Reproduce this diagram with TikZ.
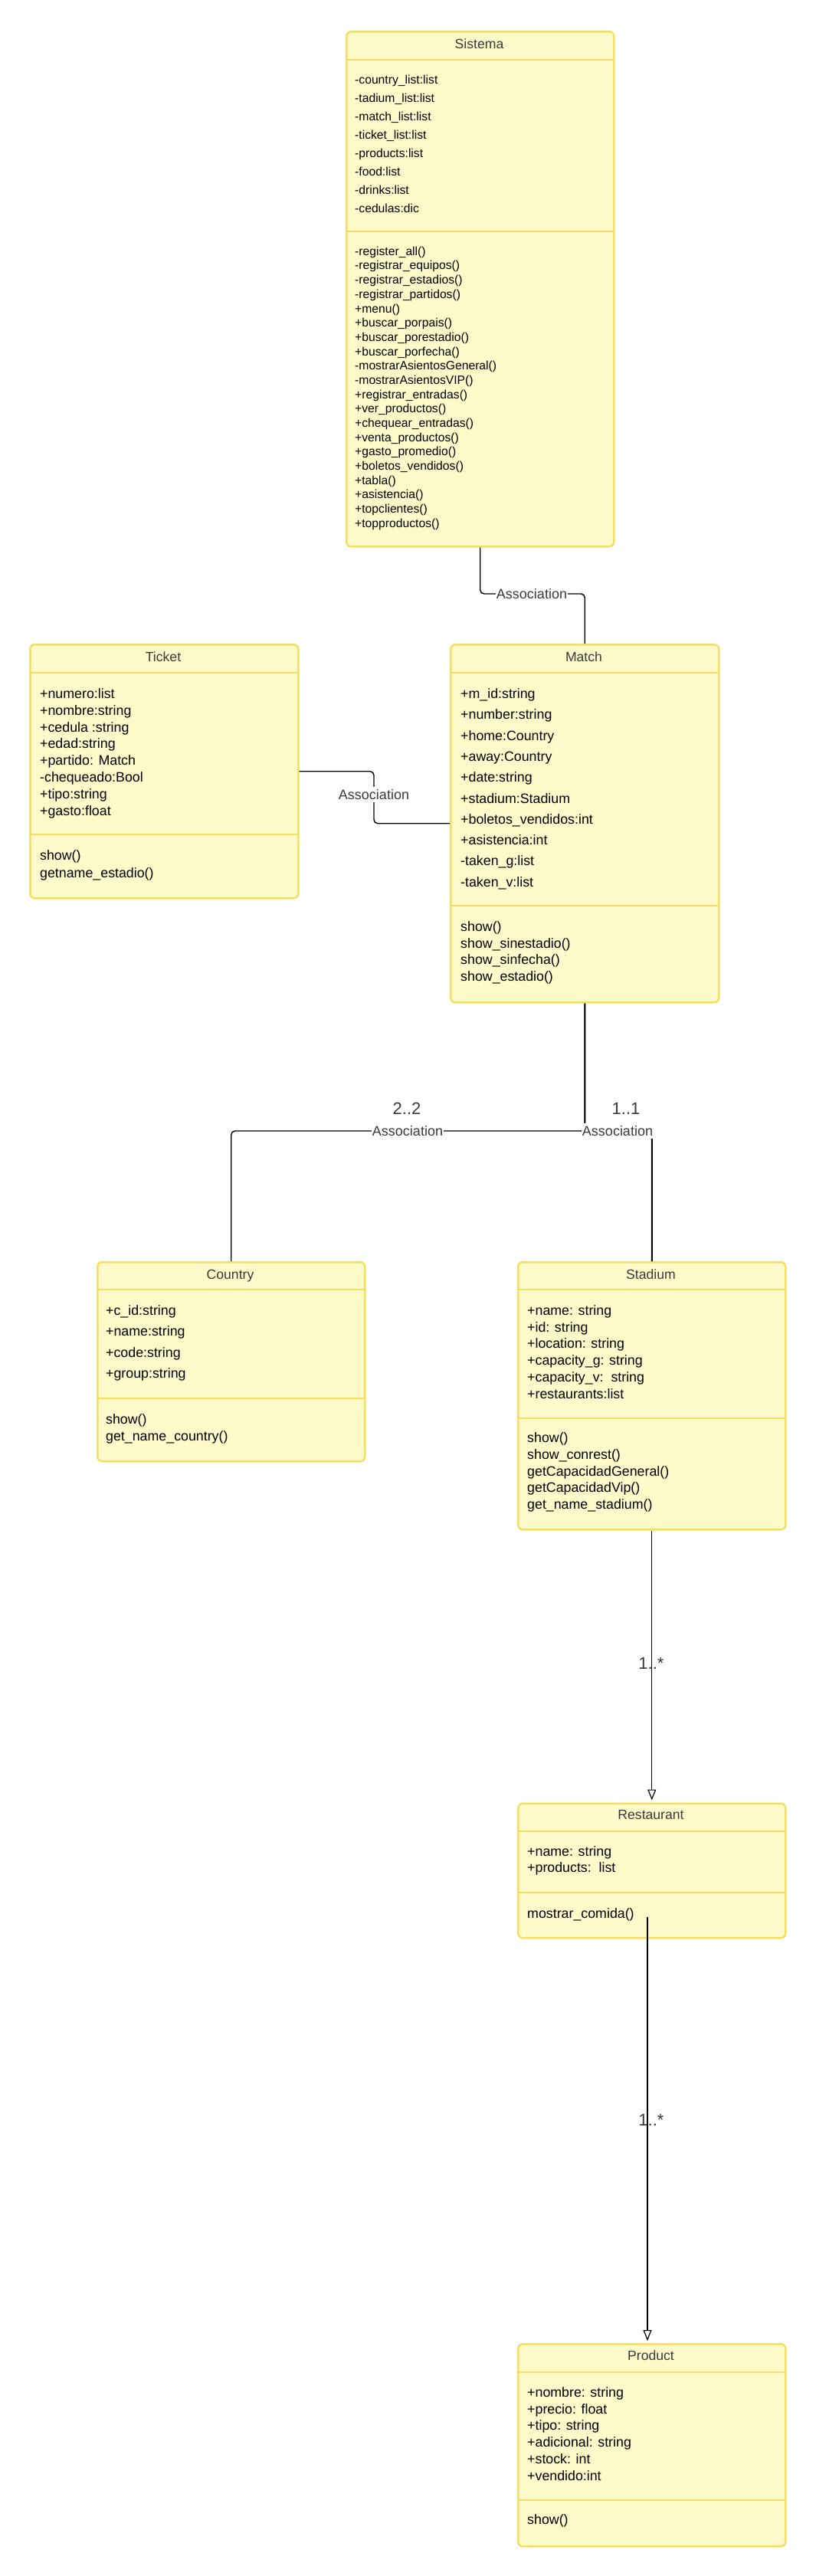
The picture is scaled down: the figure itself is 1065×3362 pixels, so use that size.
\documentclass[tikz,border=0pt]{standalone}
\usepackage{fontspec}
\setmainfont{Liberation Sans}
\usetikzlibrary{arrows.meta}

\definecolor{classfill}{RGB}{255,250,202}
\definecolor{classline}{RGB}{244,223,98}
\definecolor{labelgray}{RGB}{58,58,58}

\begin{document}
\begin{tikzpicture}[x=1pt, y=-1pt,
    umlbox/.style={draw=classline, fill=classfill, line width=2.5pt, rounded corners=6pt, anchor=north west, inner sep=0},
    umlsep/.style={classline, line width=2pt},
    umltitle/.style={anchor=base, inner sep=0, text=labelgray, font=\fontsize{17.6}{21}\selectfont},
    member/.style={anchor=base west, inner sep=0, font=\fontsize{17.8}{21}\selectfont},
    smallmember/.style={member, font=\fontsize{15.7}{19}\selectfont},
    assoc/.style={draw=black, line width=1.4pt, rounded corners=5pt},
    navarrow/.style={draw=black, line width=1.4pt, -{Triangle[open, length=14pt, width=11pt, line width=1.2pt]}, shorten >=3pt},
    assoclabel/.style={fill=white, inner xsep=1pt, inner ysep=3pt, text=labelgray, font=\fontsize{18}{21}\selectfont},
    multlabel/.style={inner sep=0, text=labelgray, font=\fontsize{22}{26}\selectfont}]
    \useasboundingbox (0,0) rectangle (1065,3362);

    % Sistema
    \node[umlbox, minimum width=349, minimum height=672] (sistema) at (451,40) {};
    \draw[umlsep] (451,78) -- (800,78);
    \draw[umlsep] (451,302) -- (800,302);
    \node[umltitle] (sistema-title) at (625.5,63) {Sistema};
    \foreach \mem [count=\i from 0] in {-country\_list:list, -tadium\_list:list, -match\_list:list, -ticket\_list:list, -products:list, -food:list, -drinks:list, -cedulas:dic}
        \node[smallmember] (sistema-a\i) at (463,{109+24*\i}) {\mem};
    \foreach \mem [count=\i from 0] in {-register\_all(), -registrar\_equipos(), -registrar\_estadios(), -registrar\_partidos(), +menu(), +buscar\_porpais(), +buscar\_porestadio(), +buscar\_porfecha(), -mostrarAsientosGeneral(), -mostrarAsientosVIP(), +registrar\_entradas(), +ver\_productos(), +chequear\_entradas(), +venta\_productos(), +gasto\_promedio(), +boletos\_vendidos(), +tabla(), +asistencia(), +topclientes(), +topproductos()}
        \node[smallmember] (sistema-m\i) at (463,{333.3+18.68*\i}) {\mem};

    % Ticket
    \node[umlbox, minimum width=350, minimum height=331] (ticket) at (38,840) {};
    \draw[umlsep] (38,878) -- (388,878);
    \draw[umlsep] (38,1089) -- (388,1089);
    \node[umltitle] (ticket-title) at (213,863) {Ticket};
    \foreach \mem [count=\i from 0] in {+numero:list, +nombre:string, +cedula :string, +edad:string, +partido: Match, -chequeado:Bool, +tipo:string, +gasto:float}
        \node[member] (ticket-a\i) at (52,{911.5+21.8*\i}) {\mem};
    \foreach \mem [count=\i from 0] in {show(), getname\_estadio()}
        \node[member] (ticket-m\i) at (52,{1122.5+22.5*\i}) {\mem};

    % Match
    \node[umlbox, minimum width=350, minimum height=467] (match) at (587,840) {};
    \draw[umlsep] (587,878) -- (937,878);
    \draw[umlsep] (587,1182) -- (937,1182);
    \node[umltitle] (match-title) at (762,863) {Match};
    \foreach \mem [count=\i from 0] in {+m\_id:string, +number:string, +home:Country, +away:Country, +date:string, +stadium:Stadium, +boletos\_vendidos:int, +asistencia:int, -taken\_g:list, -taken\_v:list}
        \node[member] (match-a\i) at (601,{911.5+27.3*\i}) {\mem};
    \foreach \mem [count=\i from 0] in {show(), show\_sinestadio(), show\_sinfecha(), show\_estadio()}
        \node[member] (match-m\i) at (601,{1215.5+21.7*\i}) {\mem};

    % Country
    \node[umlbox, minimum width=349, minimum height=260] (country) at (126,1646) {};
    \draw[umlsep] (126,1683) -- (475,1683);
    \draw[umlsep] (126,1825) -- (475,1825);
    \node[umltitle] (country-title) at (300.5,1669.5) {Country};
    \foreach \mem [count=\i from 0] in {+c\_id:string, +name:string, +code:string, +group:string}
        \node[member] (country-a\i) at (138,{1716.5+27.3*\i}) {\mem};
    \foreach \mem [count=\i from 0] in {show(), get\_name\_country()}
        \node[member] (country-m\i) at (138,{1858.5+22*\i}) {\mem};

    % Stadium
    \node[umlbox, minimum width=349, minimum height=349] (stadium) at (675,1646) {};
    \draw[umlsep] (675,1683) -- (1024,1683);
    \draw[umlsep] (675,1851) -- (1024,1851);
    \node[umltitle] (stadium-title) at (849.5,1669.5) {Stadium};
    \foreach \mem [count=\i from 0] in {+name: string, +id: string, +location: string, +capacity\_g: string, +capacity\_v:\ \ string, +restaurants:list}
        \node[member] (stadium-a\i) at (688,{1716.5+21.7*\i}) {\mem};
    \foreach \mem [count=\i from 0] in {show(), show\_conrest(), getCapacidadGeneral(), getCapacidadVip(), get\_name\_stadium()}
        \node[member] (stadium-m\i) at (688,{1882.8+21.7*\i}) {\mem};

    % Restaurant
    \node[umlbox, minimum width=349, minimum height=175.5] (restaurant) at (675,2352.5) {};
    \draw[umlsep] (675,2390) -- (1024,2390);
    \draw[umlsep] (675,2470) -- (1024,2470);
    \node[umltitle] (restaurant-title) at (849.5,2374.3) {Restaurant};
    \foreach \mem [count=\i from 0] in {+name: string, +products:\ \ list}
        \node[member] (restaurant-a\i) at (688,{2422.2+21.7*\i}) {\mem};
    \node[member] (restaurant-m0) at (688,2503.5) {mostrar\_comida()};

    % Product
    \node[umlbox, minimum width=349, minimum height=264] (product) at (675,3058) {};
    \draw[umlsep] (675,3096) -- (1024,3096);
    \draw[umlsep] (675,3263) -- (1024,3263);
    \node[umltitle] (product-title) at (849.5,3080.3) {Product};
    \foreach \mem [count=\i from 0] in {+nombre: string, +precio: float, +tipo: string, +adicional: string, +stock: int, +vendido:int}
        \node[member] (product-a\i) at (688,{3128.5+21.7*\i}) {\mem};
    \node[member] (product-m0) at (688,3294.5) {show()};

    % connectors
    \coordinate (sis-bend) at (694,775);
    \coordinate (tic-bend) at (488,1037);
    \coordinate (cou-bend) at (532,1476);
    \coordinate (sta-bend) at (806,1476);
    \coordinate (rest-out) at (845,2501.5);

    \draw[assoc] (sistema.south) |- (sis-bend) -| (match.north);
    \draw[assoc] (ticket.east) -| (tic-bend) |- (match.west);
    \draw[assoc] (match.south) |- (cou-bend) -| (country.north);
    \draw[assoc, line width=2pt] (match.south) |- (sta-bend) -| (stadium.north);
    \draw[navarrow] (stadium.south) -- (restaurant.north);
    \draw[navarrow] (rest-out) -- (rest-out |- product.north);

    \node[assoclabel] (sis-label) at (sis-bend) {Association};
    \node[assoclabel] (tic-label) at (tic-bend) {Association};
    \node[assoclabel] (cou-label) at (cou-bend) {Association};
    \node[multlabel] (cou-mult) at (531,1447) {2..2};
    \node[assoclabel] (sta-label) at (sta-bend) {Association};
    \node[multlabel] (sta-mult) at (817,1447) {1..1};
    \node[multlabel] (rest-mult) at (850,2171) {1..*};
    \node[multlabel] (prod-mult) at (850,2767) {1..*};
\end{tikzpicture}
\end{document}
